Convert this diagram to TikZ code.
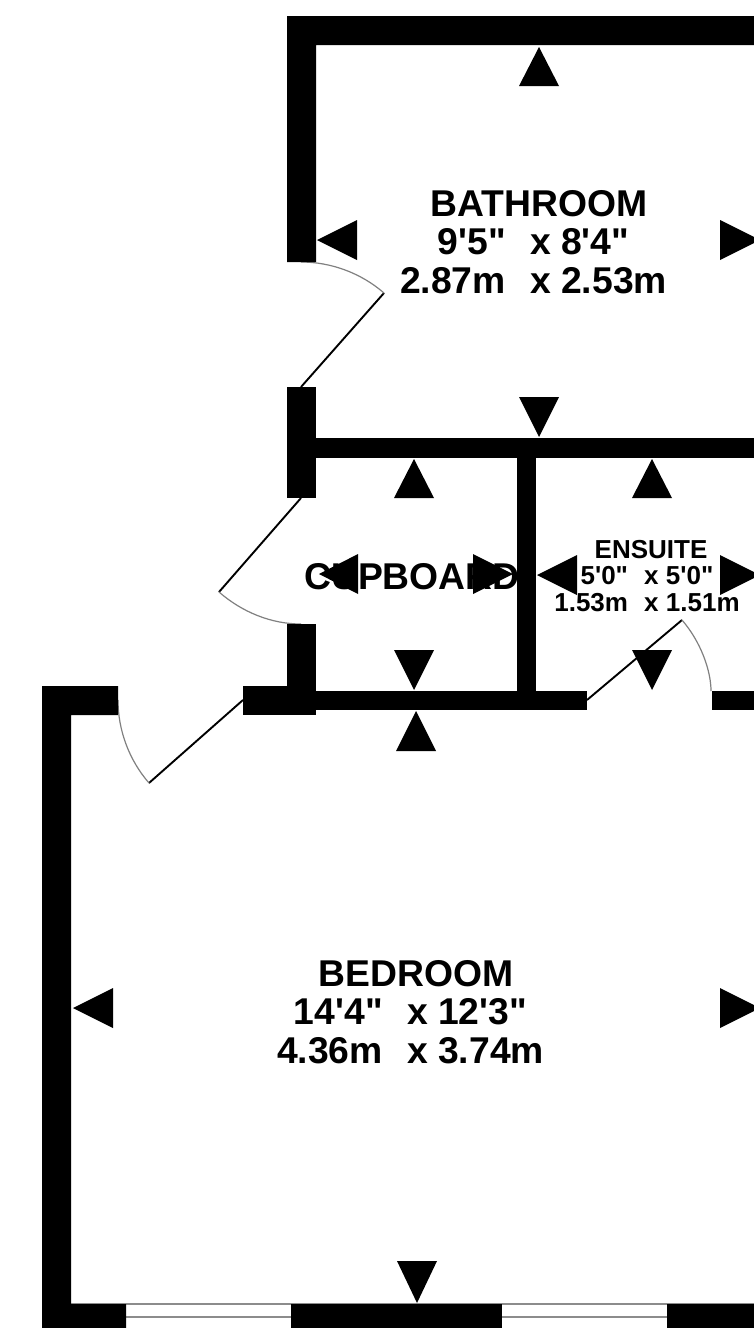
\documentclass[tikz,border=0pt]{standalone}
\usepackage{fontspec}
\newfontfamily\labfont{Liberation Sans}[Ligatures=NoCommon]
\newcommand{\biggap}{\hspace{14pt}}
\newcommand{\smallgap}{\hspace{9pt}}
\newcommand{\bigpad}{\rule{11pt}{0pt}}
\newcommand{\smallpad}{\rule{8pt}{0pt}}
\tikzset{
  wall/.style={fill=black,draw=none},
  tri/.style={fill=black,draw=none},
  leaf/.style={draw=black,line width=1.9pt},
  swing/.style={draw=black!50,line width=1.2pt},
  pane/.style={draw=black!45,line width=2pt},
  biglabel/.style={align=center,inner sep=0pt,font=\labfont\bfseries\fontsize{37.3pt}{38.5pt}\selectfont},
  smalllabel/.style={align=center,inner sep=0pt,font=\labfont\bfseries\fontsize{26pt}{26.3pt}\selectfont}
}
\begin{document}
\begin{tikzpicture}[x=1pt,y=-1pt]
\useasboundingbox (0,0) rectangle (754,1328);
\fill[white] (0,0) rectangle (754,1328);
% windows
\draw[pane] (71,1304) -- (754,1304);
\draw[pane] (126,1317) -- (291,1317);
\draw[pane] (502,1317) -- (667,1317);
% doors
\draw[leaf] (301,387) -- (384,293);
\draw[swing] (301,262) .. controls (331,262) and (361,273) .. (384,293);
\draw[leaf] (301,498) -- (219,592);
\draw[swing] (219,592) .. controls (242,612) and (271,624) .. (301,624);
\draw[leaf] (243,700) -- (149,783);
\draw[swing] (118,700) .. controls (118,730) and (129,760) .. (149,783);
\draw[leaf] (587,700) -- (682,620);
\draw[swing] (682,620) .. controls (701,642) and (711,671) .. (711,691);
% labels
\node[biglabel] (bathlabel) at (539,242) {BATHROOM\\9'5"\biggap{} x 8'4"\bigpad\\2.87m\biggap{} x 2.53m\bigpad};
\node[biglabel] (cuplabel) at (412,577) {CUPBOARD};
\node[smalllabel] (enslabel) at (651,576) {ENSUITE\\5'0"\smallgap{} x 5'0"\smallpad\\1.53m\smallgap{} x 1.51m\smallpad};
\node[biglabel] (bedlabel) at (416,1012) {BEDROOM\\14'4"\biggap{} x 12'3"\bigpad\\4.36m\biggap{} x 3.74m\bigpad};
% walls
\fill[wall] (754,16) -- (287,16) -- (287,262) -- (316,262) -- (316,45) -- (754,45) -- cycle;
\fill[wall] (287,387) rectangle (316,498);
\fill[wall] (316,438) rectangle (754,458);
\fill[wall] (287,624) rectangle (316,715);
\fill[wall] (243,686) rectangle (316,715);
\fill[wall] (316,691) rectangle (587,710);
\fill[wall] (517,458) rectangle (536,691);
\fill[wall] (712,691) rectangle (754,710);
\fill[wall] (42,1328) -- (42,686) -- (118,686) -- (118,715) -- (71,715) -- (71,1304) -- (126,1304) -- (126,1328) -- cycle;
\fill[wall] (291,1304) rectangle (502,1328);
\fill[wall] (667,1304) rectangle (754,1328);
% bathroom markers
\fill[tri] (539,47) -- (519,86) -- (559,86) -- cycle;
\fill[tri] (317,240) -- (357,220) -- (357,260) -- cycle;
\fill[tri] (760,240) -- (720,220) -- (720,260) -- cycle;
\fill[tri] (539,437) -- (519,397) -- (559,397) -- cycle;
% cupboard markers
\fill[tri] (414,459) -- (394,498) -- (434,498) -- cycle;
\fill[tri] (319,574) -- (358,554) -- (358,594) -- cycle;
\fill[tri] (513,574) -- (473,554) -- (473,594) -- cycle;
\fill[tri] (414,690) -- (394,650) -- (434,650) -- cycle;
% ensuite markers
\fill[tri] (652,459) -- (632,498) -- (672,498) -- cycle;
\fill[tri] (537,575) -- (577,555) -- (577,595) -- cycle;
\fill[tri] (760,575) -- (720,555) -- (720,595) -- cycle;
\fill[tri] (652,690) -- (632,650) -- (672,650) -- cycle;
% bedroom markers
\fill[tri] (416,711) -- (396,751) -- (436,751) -- cycle;
\fill[tri] (73,1008) -- (113,988) -- (113,1028) -- cycle;
\fill[tri] (760,1008) -- (720,988) -- (720,1028) -- cycle;
\fill[tri] (417,1303) -- (397,1261) -- (437,1261) -- cycle;
\end{tikzpicture}
\end{document}
